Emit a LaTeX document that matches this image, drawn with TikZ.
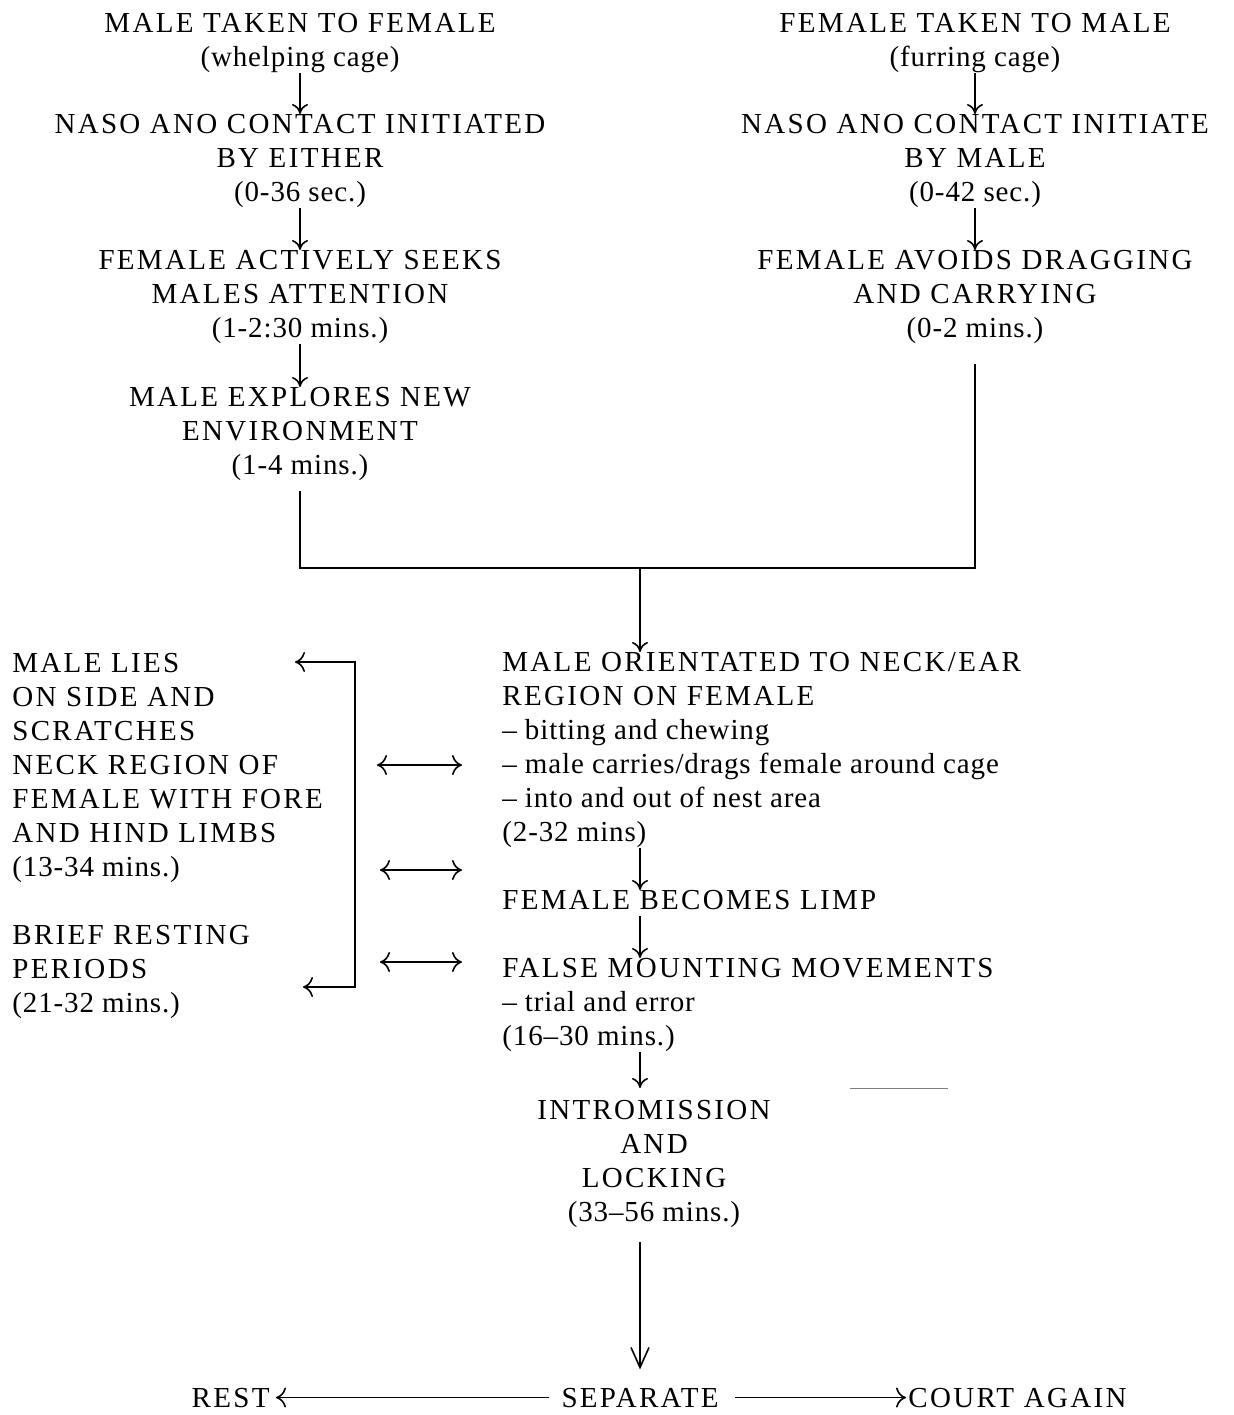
\documentclass[tikz,border=0pt]{standalone}
\usepackage{fontspec}
\setmainfont[LetterSpace=3]{Liberation Serif}
\newfontfamily\capsfont[LetterSpace=8]{Liberation Serif}
\newcommand{\lc}[1]{{\rmfamily #1}}
\usetikzlibrary{arrows.meta}

\tikzset{
  txt/.style={inner sep=0pt, font={\capsfont\fontsize{14.5}{17}\selectfont}},
  ctr/.style={txt, align=center, anchor=north},
  lft/.style={txt, align=left, anchor=north west},
  rule/.style={line width=0.8pt},
  arr/.style={rule, -{To[length=5pt,width=8pt]}},
  sidearr/.style={rule, -{To[length=5pt,width=10pt]}},
  dbl/.style={rule, {To[length=5pt,width=10pt]}-{To[length=5pt,width=10pt]}},
  longarr/.style={rule, -{Straight Barb[length=10pt,width=9pt]}}
}

\begin{document}
\begin{tikzpicture}[x=0.5pt,y=-0.5pt]
\useasboundingbox (0,0) rectangle (1233,1415);

% male taken to female
\node[ctr] (takeM) at (300,13) {MALE TAKEN TO FEMALE\\\lc{(whelping cage)}};
\node[ctr] (nasoM) at (300,114) {NASO ANO CONTACT INITIATED\\BY EITHER\\\lc{(0-36 sec.)}};
\node[ctr] (seekF) at (300,250) {FEMALE ACTIVELY SEEKS\\MALES ATTENTION\\\lc{(1-2:30 mins.)}};
\node[ctr] (explM) at (300,387) {MALE EXPLORES NEW\\ENVIRONMENT\\\lc{(1-4 mins.)}};
\draw[arr] (takeM) -- (nasoM);
\draw[arr] (nasoM) -- (seekF);
\draw[arr] (seekF) -- (explM);

% female taken to male
\node[ctr] (takeF) at (975,13) {FEMALE TAKEN TO MALE\\\lc{(furring cage)}};
\node[ctr] (nasoF) at (975,114) {NASO ANO CONTACT INITIATE\\BY MALE\\\lc{(0-42 sec.)}};
\node[ctr] (avoidF) at (975,250) {FEMALE AVOIDS DRAGGING\\AND CARRYING\\\lc{(0-2 mins.)}};
\draw[arr] (takeF) -- (nasoF);
\draw[arr] (nasoF) -- (avoidF);

\coordinate (join) at (640,568);
\draw[rule] ([yshift=-5pt]explM.south) |- (join) -| ([yshift=-10pt]avoidF.south);

% main sequence
\node[lft] (orient) at (502,652) {MALE ORIENTATED TO NECK/EAR\\REGION ON FEMALE\\\lc{– bitting and chewing}\\\lc{– male carries/drags female around cage}\\\lc{– into and out of nest area}\\\lc{(2-32 mins)}};
\node[lft] (limp) at (502,890) {FEMALE BECOMES LIMP};
\node[lft] (falseM) at (502,958) {FALSE MOUNTING MOVEMENTS\\\lc{– trial and error}\\\lc{(16–30 mins.)}};
\node[ctr] (intro) at (654,1100) {INTROMISSION\\AND\\LOCKING\\\lc{(33–56 mins.)}};
\draw[arr] (join) -- (join |- orient.north);
\draw[arr] (orient.south -| join) -- (limp.north -| join);
\draw[arr] ([yshift=-3pt]limp.south -| join) -- (falseM.north -| join);
\draw[arr] (falseM.south -| join) -- ([yshift=6pt]intro.north -| join);

% side activities
\node[lft] (lies) at (12,653) {MALE LIES\\ON SIDE AND\\SCRATCHES\\NECK REGION OF\\FEMALE WITH FORE\\AND HIND LIMBS\\\lc{(13-34 mins.)}};
\node[lft] (brief) at (12,925) {BRIEF RESTING\\PERIODS\\\lc{(21-32 mins.)}};
\coordinate (brT) at (355,662);
\coordinate (brB) at (355,987);
\coordinate (tipT) at (295,662);
\coordinate (tipB) at (303,987);
\draw[dbl] (tipT) -- (brT) -- (brB) -- (tipB);
\coordinate (dl1) at (377,765); \coordinate (dr1) at (462,765);
\coordinate (dl2) at (380,870); \coordinate (dr2) at (462,870);
\coordinate (dl3) at (380,962); \coordinate (dr3) at (462,962);
\draw[dbl] (dl1) -- (dr1);
\draw[dbl] (dl2) -- (dr2);
\draw[dbl] (dl3) -- (dr3);

\draw[line width=0.5pt, gray] (850,1088) -- (948,1088);

% outcome
\node[txt, anchor=base] (sep) at (640,1407) {SEPARATE};
\node[txt, anchor=base east] (rest) at (270,1407) {REST};
\node[txt, anchor=base west] (court) at (908,1407) {COURT AGAIN};
\draw[longarr] ([yshift=-7pt]intro.south -| sep.north) -- ([yshift=9pt]sep.north);
\draw[sidearr, shorten <=6pt, shorten >=3pt] (sep.west) -- (rest.east);
\draw[sidearr, shorten <=8pt, shorten >=1pt] (sep.east) -- (court.west);
\end{tikzpicture}
\end{document}
